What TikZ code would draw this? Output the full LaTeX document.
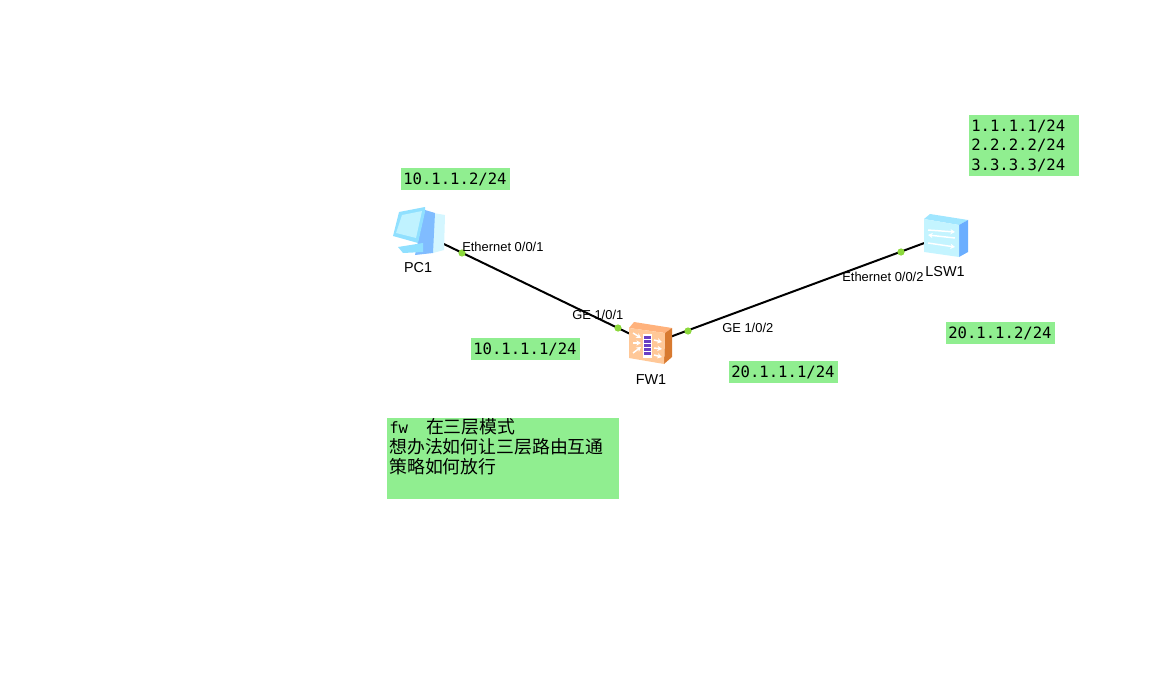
\documentclass[tikz,border=0pt]{standalone}
\usepackage{fontspec}
\usepackage{xcolor}
\usetikzlibrary{shapes,arrows,positioning,arrows.meta}
\setmainfont{Liberation Sans}
\setmonofont{DejaVu Sans Mono}
\newfontfamily\cjkfont{Noto Sans CJK SC}
\definecolor{boxgreen}{HTML}{90EE90}
\definecolor{portgreen}{HTML}{8CD83C}
\definecolor{pcframe}{HTML}{90E0FF}
\definecolor{pcscreen}{HTML}{C0F2FF}
\definecolor{pcblue}{HTML}{80BCFF}
\definecolor{pclight}{HTML}{D4F6FF}
\definecolor{fwtop}{HTML}{FFB27C}
\definecolor{fwfront}{HTML}{FFC898}
\definecolor{fwside}{HTML}{D87A30}
\definecolor{fwbrick}{HTML}{6A3FC4}
\definecolor{lswtop}{HTML}{A0E6FF}
\definecolor{lswfront}{HTML}{C4F4FF}
\definecolor{lswside}{HTML}{6AAEFF}
\tikzset{
    ipbox/.style={rectangle, fill=boxgreen, anchor=north west, align=left, inner xsep=1.5pt, inner ysep=0pt, text width=78.75pt, minimum height=16.5pt, font=\ttfamily\fontsize{11.7}{14.6}\selectfont},
    device/.style={rectangle, inner sep=0pt, minimum size=30pt},
    port/.style={circle, fill=portgreen, inner sep=0pt, minimum size=5.4pt},
    portlabel/.style={font=\fontsize{9.7}{11}\selectfont, inner sep=0pt},
    devlabel/.style={font=\fontsize{10.8}{12}\selectfont, inner sep=0pt},
    link/.style={draw, line width=1.5pt},
    whitearrow/.style={draw=white, line width=1.1pt, -{Stealth[length=3.5pt,width=4pt]}},
    pcicon/.pic={
        \fill[pclight] (8,-20) -- (26,-17) -- (25,18) -- (14,21) -- cycle;
        \fill[pcblue] (6,-22) -- (16,-19) -- (14,21) -- (-4,23) -- cycle;
        \fill[pcframe] (-21,15) -- (4,11) -- (4,20) -- (-16,21) -- cycle;
        \fill[pcframe] (-20,-20) -- (6,-25) -- (6,-20) -- (-1,11) -- (-26,4) -- cycle;
        \fill[pcscreen] (-17,-17) -- (3,-21) -- (-3,6) -- (-23,1) -- cycle;
    },
    fwicon/.pic={
        \fill[fwtop] (-22,-16) -- (-17,-22) -- (21,-16) -- (14,-11) -- cycle;
        \fill[fwside] (14,-11) -- (21,-16) -- (21,13) -- (13,20) -- cycle;
        \fill[fwfront] (-22,-16) -- (14,-11) -- (13,20) -- (-22,14) -- cycle;
        \fill[white] (-8,-10) rectangle (1,14);
        \foreach \rowy in {-8,-4,0,4,8}
            \fill[fwbrick] (-7,\rowy) rectangle (0,\rowy+2.8);
        \draw[whitearrow] (-18,-11) -- (-10,-6);
        \draw[whitearrow] (-18,-1) -- (-10,-1);
        \draw[whitearrow] (-18,9) -- (-10,3);
        \draw[whitearrow] (3,-4) -- (11,-2);
        \draw[whitearrow] (3,4) -- (11,5);
        \draw[whitearrow] (3,11) -- (11,13);
    },
    lswicon/.pic={
        \fill[lswtop] (-22,-16) -- (-16,-21) -- (22,-15) -- (13,-10) -- cycle;
        \fill[lswside] (13,-10) -- (22,-15) -- (22,17) -- (13,22) -- cycle;
        \fill[lswfront] (-22,-16) -- (13,-10) -- (13,22) -- (-22,17) -- cycle;
        \draw[whitearrow] (-18,-5) -- (9,-3);
        \draw[whitearrow] (9,3) -- (-18,0);
        \draw[whitearrow] (-18,8) -- (9,12);
    }
}

\begin{document}
\begin{tikzpicture}[x=0.75pt, y=-0.75pt]
    \useasboundingbox (0,0) rectangle (1166,684);

    % Devices
    \node[device] (pc) at (419,232) {};
    \node[device] (fw) at (651,344) {};
    \node[device] (lsw) at (946,235) {};

    % Links
    \draw[link] (pc.center) -- (fw.center);
    \draw[link] (fw.center) -- (lsw.center);

    \pic at (pc.center) {pcicon};
    \pic at (fw.center) {fwicon};
    \pic at (lsw.center) {lswicon};

    % Ports
    \node[port] (pc-port) at (462,253) {};
    \node[port] (fw-port1) at (618,328) {};
    \node[port] (fw-port2) at (688,331) {};
    \node[port] (lsw-port) at (901,252) {};

    % Device and port labels
    \node[devlabel] (pc-label) at (418,268) {PC1};
    \node[devlabel] (fw-label) at (651,380) {FW1};
    \node[devlabel] (lsw-label) at (945,272) {LSW1};
    \node[portlabel, anchor=west] (pc-if) at (462,247) {Ethernet 0/0/1};
    \node[portlabel, anchor=west] (fw-if1) at (572,315) {GE 1/0/1};
    \node[portlabel, anchor=west] (fw-if2) at (722,328) {GE 1/0/2};
    \node[portlabel, anchor=west] (lsw-if) at (842,277) {Ethernet 0/0/2};

    % Addresses
    \node[ipbox] (pc-ip) at (401,168) {10.1.1.2/24};
    \node[ipbox] (fw-ip1) at (471,338) {10.1.1.1/24};
    \node[ipbox] (fw-ip2) at (729,361) {20.1.1.1/24};
    \node[ipbox] (lsw-ip) at (946,322) {20.1.1.2/24};
    \node[ipbox, text width=79.5pt, minimum height=45.75pt] (loop-ip) at (969,115) {1.1.1.1/24\\2.2.2.2/24\\3.3.3.3/24};

    % Note
    \node[ipbox, text width=171pt, minimum height=60pt, font=\fontsize{13.4}{15}\selectfont] (note) at (387,418) {{\ttfamily\fontsize{11.7}{15}\selectfont fw}\hspace{13.5pt}{\cjkfont 在三层模式}\\{\cjkfont 想办法如何让三层路由互通}\\{\cjkfont 策略如何放行}\\\strut};
\end{tikzpicture}
\end{document}
